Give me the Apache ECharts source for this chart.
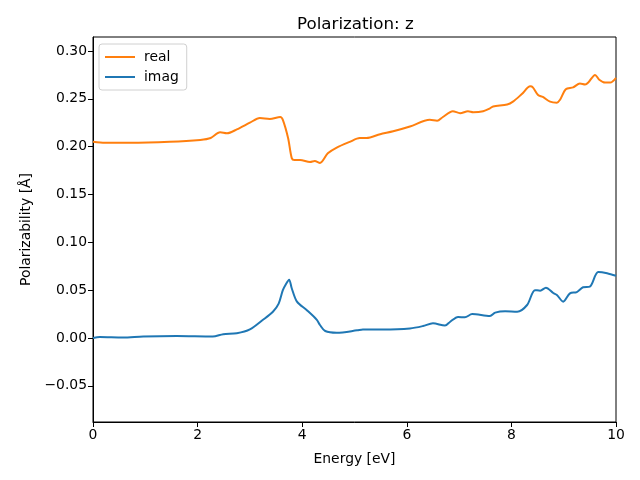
<!DOCTYPE html>
<html>
<head>
<meta charset="utf-8">
<script src="https://cdn.jsdelivr.net/npm/echarts@6/dist/echarts.min.js"></script>
<style>html,body{margin:0;padding:0;background:#fff}#c{width:640px;height:480px}</style>
</head>
<body>
<div id="c"></div>
<script>
const energyReal = [0, 0.23, 0.7, 1.47, 2.05, 2.25, 2.43, 2.56, 2.75, 3.0, 3.19, 3.38, 3.58, 3.63, 3.73, 3.8, 3.85, 3.96, 4.15, 4.24, 4.34, 4.49, 4.66, 4.91, 5.1, 5.23, 5.49, 5.74, 6.06, 6.44, 6.58, 6.69, 6.88, 7.02, 7.17, 7.27, 7.46, 7.59, 7.65, 7.92, 8.03, 8.2, 8.36, 8.41, 8.51, 8.6, 8.74, 8.87, 8.93, 9.04, 9.18, 9.31, 9.41, 9.47, 9.6, 9.68, 9.79, 9.89, 10];
const realValues = [0.205, 0.204, 0.204, 0.205, 0.207, 0.209, 0.215, 0.214, 0.218, 0.225, 0.230, 0.229, 0.231, 0.228, 0.209, 0.188, 0.186, 0.186, 0.184, 0.185, 0.183, 0.193, 0.199, 0.205, 0.209, 0.209, 0.213, 0.216, 0.221, 0.228, 0.227, 0.231, 0.237, 0.235, 0.237, 0.236, 0.237, 0.240, 0.242, 0.244, 0.247, 0.255, 0.263, 0.262, 0.254, 0.252, 0.247, 0.246, 0.249, 0.260, 0.262, 0.266, 0.265, 0.267, 0.275, 0.270, 0.267, 0.267, 0.272];
const energyImag = [0, 0.13, 0.57, 0.96, 1.6, 2.29, 2.49, 2.75, 3.0, 3.25, 3.44, 3.55, 3.63, 3.68, 3.75, 3.8, 3.9, 4.09, 4.28, 4.34, 4.44, 4.66, 5.05, 5.16, 5.54, 6.06, 6.31, 6.5, 6.73, 6.83, 6.98, 7.11, 7.25, 7.59, 7.69, 7.88, 8.11, 8.3, 8.45, 8.55, 8.66, 8.8, 8.87, 8.99, 9.12, 9.25, 9.37, 9.5, 9.66, 9.83, 10];
const imagValues = [0.000, 0.001, 0.0005, 0.0015, 0.002, 0.0015, 0.004, 0.005, 0.009, 0.019, 0.0275, 0.036, 0.050, 0.0554, 0.061, 0.052, 0.038, 0.029, 0.019, 0.0136, 0.0073, 0.0055, 0.008, 0.009, 0.009, 0.010, 0.0125, 0.0154, 0.013, 0.017, 0.022, 0.0216, 0.025, 0.023, 0.0265, 0.028, 0.0275, 0.0345, 0.050, 0.0495, 0.0526, 0.047, 0.045, 0.038, 0.0467, 0.048, 0.053, 0.0537, 0.069, 0.0677, 0.065];
const yTicks = [-0.05, 0.00, 0.05, 0.10, 0.15, 0.20, 0.25, 0.30];
const xTicks = [0, 2, 4, 6, 8, 10];
const seriesNames = ['real', 'imag'];
const titleText = 'Polarization: z';
const xName = 'Energy [eV]';
const yName = 'Polarizability [Å]';

const font = 'DejaVu Sans';
const zip = (xs, ys) => xs.map((x, i) => [x, ys[i]]);
const chart = echarts.init(document.getElementById('c'), null, {renderer: 'canvas'});
chart.setOption({
  animation: false,
  backgroundColor: '#fff',
  textStyle: {fontFamily: font},
  title: {
    text: titleText, left: 292, top: 11,
    textStyle: {fontFamily: font, fontSize: 16.7, fontWeight: 'normal', color: '#000'}
  },
  grid: {left: 93, right: 24, top: 37, bottom: 58, show: true, borderColor: '#000', borderWidth: 1, containLabel: false},
  legend: {
    data: seriesNames, orient: 'vertical', left: 99, top: 44,
    padding: [6, 8, 6, 6], itemGap: 6, itemWidth: 30, itemHeight: 2, icon: 'rect',
    borderColor: '#d0d0d0', borderWidth: 1, borderRadius: 3, backgroundColor: '#fff',
    textStyle: {fontFamily: font, fontSize: 13.9, color: '#000', padding: [0, 0, 0, 4]}
  },
  xAxis: {
    type: 'value', min: 0, max: 10, interval: 2,
    name: xName, nameLocation: 'middle', nameGap: 30,
    nameTextStyle: {fontFamily: font, fontSize: 13.9, color: '#000'},
    axisLine: {show: true, onZero: false, lineStyle: {color: '#000', width: 1}},
    axisTick: {show: true, inside: false, length: 5, lineStyle: {color: '#000'}, customValues: xTicks},
    axisLabel: {fontFamily: font, fontSize: 13.9, color: '#000', margin: 6, customValues: xTicks},
    splitLine: {show: false}
  },
  yAxis: {
    type: 'value', min: -0.0878, max: 0.3146,
    name: yName, nameLocation: 'middle', nameGap: 60,
    nameTextStyle: {fontFamily: font, fontSize: 13.9, color: '#000'},
    axisLine: {show: true, onZero: false, lineStyle: {color: '#000', width: 1}},
    axisTick: {show: true, inside: false, length: 5, lineStyle: {color: '#000'}, customValues: yTicks},
    axisLabel: {fontFamily: font, fontSize: 13.9, color: '#000', margin: 6, customValues: yTicks,
      formatter: v => (v < 0 ? '\u2212' : '') + Math.abs(v).toFixed(2)},
    splitLine: {show: false}
  },
  series: [
    {name: seriesNames[0], type: 'line', data: zip(energyReal, realValues), showSymbol: false, symbol: 'none',
      smooth: 0.3, color: '#ff7f0e', lineStyle: {width: 2, color: '#ff7f0e'}, itemStyle: {color: '#ff7f0e'}},
    {name: seriesNames[1], type: 'line', data: zip(energyImag, imagValues), showSymbol: false, symbol: 'none',
      smooth: 0.3, color: '#1f77b4', lineStyle: {width: 2, color: '#1f77b4'}, itemStyle: {color: '#1f77b4'}}
  ]
});
</script>
</body>
</html>
